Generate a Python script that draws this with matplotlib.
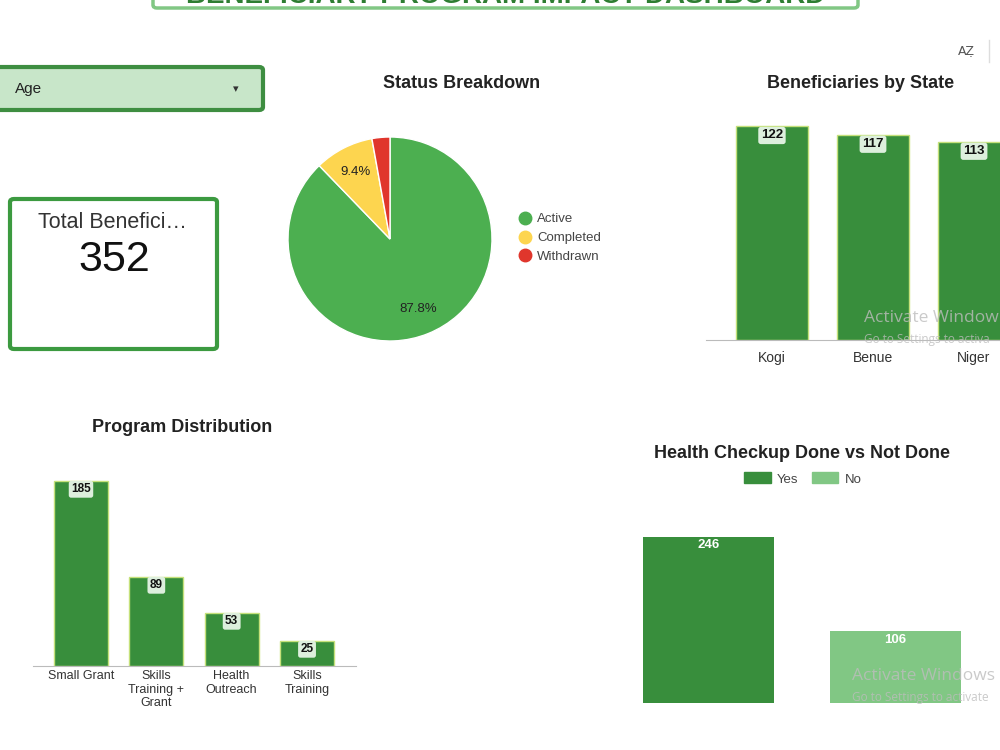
import matplotlib
matplotlib.use("Agg")
import matplotlib.pyplot as plt
from matplotlib.patches import FancyBboxPatch
from matplotlib.lines import Line2D
from matplotlib.patches import Patch

plt.rcParams["font.family"] = ["Liberation Sans", "DejaVu Sans"]

# data
status_labels = ["Active", "Completed", "Withdrawn"]
status_counts = [309, 33, 10]
status_colors = ["#4CAF50", "#FDD54F", "#E0362C"]

states = ["Kogi", "Benue", "Niger"]
state_counts = [122, 117, 113]

programs = ["Small Grant", "Skills\nTraining +\nGrant", "Health\nOutreach", "Skills\nTraining"]
program_counts = [185, 89, 53, 25]

health_labels = ["Yes", "No"]
health_counts = [246, 106]
health_colors = ["#388E3C", "#81C784"]

total_beneficiaries = 352

W, H = 1000, 750
fig = plt.figure(figsize=(10, 7.5), dpi=100)
fig.patch.set_facecolor("white")


def px_axes(x0, y0, x1, y1):
    # pixel box (top-left origin) -> figure axes
    return fig.add_axes([x0 / W, 1 - y1 / H, (x1 - x0) / W, (y1 - y0) / H])


def fx(x):
    return x / W


def fy(y):
    return 1 - y / H


dark_green = "#388E3C"
bar_edge = "#C5E17A"
label_box = dict(boxstyle="round,pad=0.2", facecolor="#DDEFDD", edgecolor="none")

# header box cut at the top
fig.patches.append(FancyBboxPatch((fx(153), fy(8)), fx(705), fy(-30) - fy(8),
                                  boxstyle="round,pad=0,rounding_size=0.004",
                                  transform=fig.transFigure, facecolor="white",
                                  edgecolor="#81C784", linewidth=2.5))
fig.text(fx(506), fy(3), "BENEFICIARY PROGRAM IMPACT DASHBOARD", ha="center", va="baseline",
         fontsize=20, fontweight="bold", color="#2E7D32")

# dropdown
fig.patches.append(FancyBboxPatch((fx(-8), fy(110)), fx(271), fy(67) - fy(110),
                                  boxstyle="round,pad=0,rounding_size=0.004",
                                  transform=fig.transFigure, facecolor="#C8E6C9",
                                  edgecolor="#3E8E41", linewidth=3))
fig.text(fx(15), fy(89), "Age", ha="left", va="center", fontsize=11, color="#222222")
fig.text(fx(236), fy(89), "\u25BE", ha="center", va="center", fontsize=8, color="#333333",
         family=["DejaVu Sans"])

# scorecard
fig.patches.append(FancyBboxPatch((fx(10), fy(349)), fx(207), fy(199) - fy(349),
                                  boxstyle="round,pad=0,rounding_size=0.004",
                                  transform=fig.transFigure, facecolor="white",
                                  edgecolor="#3C9A40", linewidth=3))
fig.text(fx(112), fy(222), "Total Benefici\u2026", ha="center", va="center", fontsize=15.5,
         color="#333333")
fig.text(fx(114), fy(260), str(total_beneficiaries), ha="center", va="center", fontsize=31,
         color="#111111")

# A-Z icon and divider
fig.text(fx(966), fy(51), "A\u0307Z\u0323", ha="center", va="center", fontsize=9, color="#555555",
         family=["DejaVu Sans"])
fig.lines.append(Line2D([fx(989), fx(989)], [fy(40), fy(62)], transform=fig.transFigure,
                        color="#DDDDDD", linewidth=1))

title_kw = dict(ha="center", va="center", fontsize=13, fontweight="bold", color="#222222")

# pie
fig.text(fx(462), fy(84), "Status Breakdown", **title_kw)
ax_pie = px_axes(288, 137, 492, 341)
wedges, texts, autotexts = ax_pie.pie(
    status_counts, colors=status_colors, startangle=90, counterclock=False,
    autopct=lambda p: f"{p:.1f}%" if p > 5 else "", pctdistance=0.74,
    wedgeprops=dict(edgecolor="white", linewidth=1),
    textprops=dict(fontsize=9.5, color="#222222"))
ax_pie.set_xlim(-1, 1)
ax_pie.set_ylim(-1, 1)
ax_pie.set_aspect("equal")
handles = [Line2D([0], [0], marker="o", linestyle="none", markersize=9,
                  markerfacecolor=c, markeredgecolor=c) for c in status_colors]
fig.legend(handles, status_labels, loc="center left", bbox_to_anchor=(fx(507), fy(238)),
           frameon=False, fontsize=9.5, labelcolor="#444444", handletextpad=-0.1,
           labelspacing=0.5, borderaxespad=0)

# beneficiaries by state
fig.text(fx(861), fy(84), "Beneficiaries by State", **title_kw)
ax_state = px_axes(706, 110, 1070, 340)
xs = range(len(states))
ax_state.bar(xs, state_counts, width=0.71, color=dark_green, edgecolor=bar_edge, linewidth=1)
for x, v in zip(xs, state_counts):
    ax_state.annotate(str(v), (x, v), xytext=(0, -6.5), textcoords="offset points",
                      ha="center", va="center", fontsize=9.5, fontweight="bold",
                      color="#111111", bbox=label_box)
ax_state.set_xlim(-0.653, 2.95)
ax_state.set_ylim(0, 131.4)
ax_state.set_xticks(list(xs))
ax_state.set_xticklabels(states, fontsize=10, color="#333333")
ax_state.tick_params(axis="x", length=0, pad=8)
ax_state.set_yticks([])
for s in ["top", "right", "left"]:
    ax_state.spines[s].set_visible(False)
ax_state.spines["bottom"].set_color("#BBBBBB")

# program distribution
fig.text(fx(182), fy(427), "Program Distribution", **title_kw)
ax_prog = px_axes(33, 460, 356, 666)
xp = range(len(programs))
ax_prog.bar(xp, program_counts, width=0.716, color=dark_green, edgecolor=bar_edge, linewidth=1)
for x, v in zip(xp, program_counts):
    ax_prog.annotate(str(v), (x, v), xytext=(0, -6), textcoords="offset points",
                     ha="center", va="center", fontsize=8.5, fontweight="bold",
                     color="#111111", bbox=label_box)
ax_prog.set_xlim(-0.637, 3.65)
ax_prog.set_ylim(0, 206)
ax_prog.set_xticks(list(xp))
ax_prog.set_xticklabels(programs, fontsize=9, color="#333333", linespacing=1.17)
ax_prog.tick_params(axis="x", length=0, pad=3)
ax_prog.set_yticks([])
for s in ["top", "right", "left"]:
    ax_prog.spines[s].set_visible(False)
ax_prog.spines["bottom"].set_color("#BBBBBB")

# health checkup
fig.text(fx(802), fy(453), "Health Checkup Done vs Not Done", **title_kw)
ax_h = px_axes(620, 500, 1000, 703)
xh = range(len(health_labels))
ax_h.bar(xh, health_counts, width=0.70, color=health_colors)
for x, v in zip(xh, health_counts):
    ax_h.annotate(str(v), (x, v), xytext=(0, -6), textcoords="offset points",
                  ha="center", va="center", fontsize=9.5, fontweight="bold", color="white")
ax_h.set_xlim(-0.473, 1.559)
ax_h.set_ylim(0, 300.7)
ax_h.axis("off")
leg_handles = [Patch(facecolor=c, edgecolor=c) for c in health_colors]
fig.legend(leg_handles, health_labels, loc="center", bbox_to_anchor=(fx(803), fy(479)),
           ncol=2, frameon=False, fontsize=9.5, labelcolor="#444444", handlelength=2.0,
           handleheight=0.9, handletextpad=0.5, columnspacing=1.0, borderaxespad=0)

# screen watermark
wm = dict(color="#BDBDBD", alpha=0.8, family=["Open Sans", "DejaVu Sans"])
fig.text(fx(864), fy(318), "Activate Window", ha="left", va="center", fontsize=12.5, **wm)
fig.text(fx(864), fy(340), "Go to Settings to activa", ha="left", va="center",
         fontsize=8.5, **wm)
fig.text(fx(852), fy(676), "Activate Windows", ha="left", va="center", fontsize=12.5, **wm)
fig.text(fx(852), fy(697), "Go to Settings to activate", ha="left", va="center",
         fontsize=8.5, **wm)

fig.savefig("out.png", dpi=100)
